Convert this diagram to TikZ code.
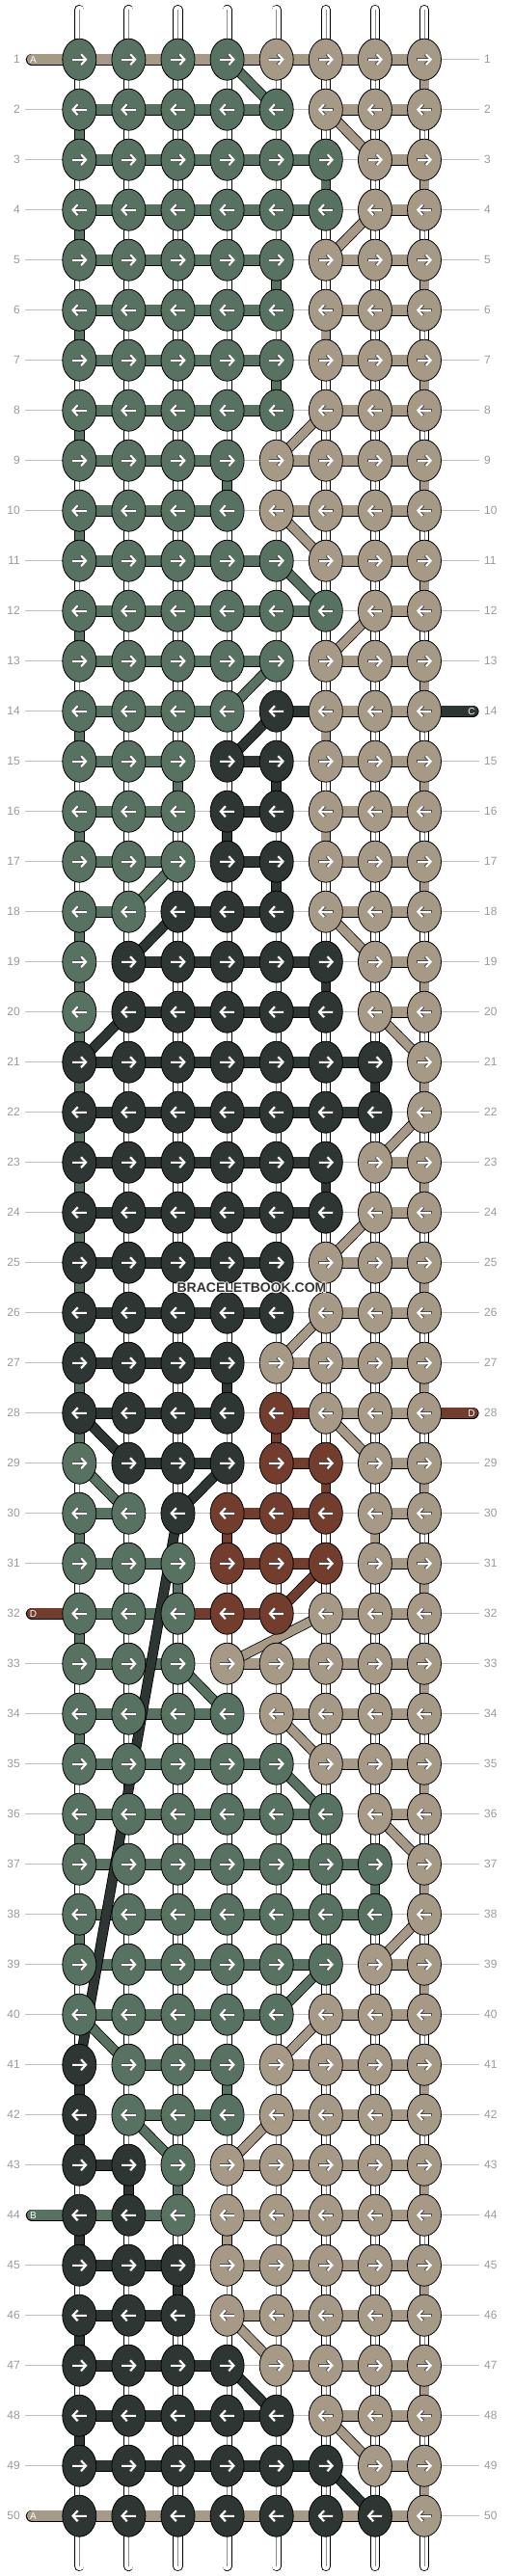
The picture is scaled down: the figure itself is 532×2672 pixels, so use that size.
\documentclass[tikz,border=0pt]{standalone}
\usepackage{fontspec}
\setmainfont{Liberation Sans}
\usetikzlibrary{shapes.geometric,arrows.meta}

\definecolor{G}{HTML}{587262}
\definecolor{T}{HTML}{A69A86}
\definecolor{D}{HTML}{2E3634}
\definecolor{R}{HTML}{733D2D}

\pgfdeclarelayer{strings}
\pgfsetlayers{strings,main}

\def\none{N}

\tikzset{
  knot/.style={ellipse, draw=black, line width=0.8pt, fill=#1, minimum width=35pt, minimum height=43pt, inner sep=0pt},
  strand/.style={draw=black, line width=0.8pt, double=#1, double distance=10.5pt},
  turn/.style={draw=black, line width=0.8pt, double=#1, double distance=9pt},
  slant/.style={draw=black, line width=0.8pt, double=#1, double distance=9pt},
  warp/.style={draw=black, line width=0.8pt, double=white, double distance=8.5pt},
  warpmid/.style={draw=black!45, line width=0.5pt},
  guide/.style={draw=black!25, line width=0.8pt},
  rownum/.style={text=black!40, font=\fontsize{12}{12}\selectfont, inner sep=0pt},
  tag/.style={text=white, font=\fontsize{10}{10}\selectfont, inner sep=0pt},
  arwout/.style={draw=black!70, line width=3.2pt, -{Straight Barb[length=5pt,width=11pt]}},
  arwin/.style={draw=white, line width=2.1pt, -{Straight Barb[length=5pt,width=11pt]}},
  wmhalo/.style={text=white, font=\bfseries\fontsize{14}{14}\selectfont, inner sep=0pt},
  wmtext/.style={text=black!80, font=\bfseries\fontsize{14}{14}\selectfont, inner sep=0pt}
}

\begin{document}
\begin{tikzpicture}[x=1pt,y=-1pt]
\useasboundingbox (0,0) rectangle (532,2672);

% row numbers and guide lines
\foreach \r in {1,...,50}{
  \node[rownum, anchor=east] (numL-\r) at (21,{61.7+52*(\r-1)}) {\r};
  \node[rownum, anchor=west] (numR-\r) at (502,{61.7+52*(\r-1)}) {\r};
  \begin{pgfonlayer}{strings}
    \draw[guide, shorten <=5pt, shorten >=5pt] (numL-\r.east) -- (numR-\r.west);
  \end{pgfonlayer}
}

% knots row by row, with the bars between neighbours
\foreach \r/\ks/\bs in {
  1/{G,G,G,G,T,T,T,T}/{T,T,T,T,T,T,T},
  2/{G,G,G,G,G,T,T,T}/{G,G,G,G,N,T,T},
  3/{G,G,G,G,G,G,T,T}/{G,G,G,G,G,N,T},
  4/{G,G,G,G,G,G,T,T}/{G,G,G,G,G,N,T},
  5/{G,G,G,G,G,T,T,T}/{G,G,G,G,N,T,T},
  6/{G,G,G,G,G,T,T,T}/{G,G,G,G,N,T,T},
  7/{G,G,G,G,G,T,T,T}/{G,G,G,G,N,T,T},
  8/{G,G,G,G,G,T,T,T}/{G,G,G,G,N,T,T},
  9/{G,G,G,G,T,T,T,T}/{G,G,G,N,T,T,T},
  10/{G,G,G,G,T,T,T,T}/{G,G,G,N,T,T,T},
  11/{G,G,G,G,G,T,T,T}/{G,G,G,G,N,T,T},
  12/{G,G,G,G,G,G,T,T}/{G,G,G,G,G,N,T},
  13/{G,G,G,G,G,T,T,T}/{G,G,G,G,N,T,T},
  14/{G,G,G,G,D,T,T,T}/{G,G,G,N,D,T,T},
  15/{G,G,G,D,D,T,T,T}/{G,G,N,D,N,T,T},
  16/{G,G,G,D,D,T,T,T}/{G,G,N,D,N,T,T},
  17/{G,G,G,D,D,T,T,T}/{G,G,N,D,N,T,T},
  18/{G,G,D,D,D,T,T,T}/{G,N,D,D,N,T,T},
  19/{G,D,D,D,D,D,T,T}/{N,D,D,D,D,N,T},
  20/{G,D,D,D,D,D,T,T}/{N,D,D,D,D,N,T},
  21/{D,D,D,D,D,D,D,T}/{D,D,D,D,D,D,N},
  22/{D,D,D,D,D,D,D,T}/{D,D,D,D,D,D,N},
  23/{D,D,D,D,D,D,T,T}/{D,D,D,D,D,N,T},
  24/{D,D,D,D,D,D,T,T}/{D,D,D,D,D,N,T},
  25/{D,D,D,D,D,T,T,T}/{D,D,D,D,N,T,T},
  26/{D,D,D,D,D,T,T,T}/{D,D,D,D,N,T,T},
  27/{D,D,D,D,T,T,T,T}/{D,D,D,N,T,T,T},
  28/{D,D,D,D,R,T,T,T}/{D,D,D,N,R,T,T},
  29/{G,D,D,D,R,R,T,T}/{N,D,D,N,R,N,T},
  30/{G,G,D,R,R,R,T,T}/{G,N,N,R,R,N,T},
  31/{G,G,G,R,R,R,T,T}/{G,G,N,R,R,N,T},
  32/{G,G,G,R,R,T,T,T}/{G,G,R,R,N,T,T},
  33/{G,G,G,T,T,T,T,T}/{G,G,N,T,T,T,T},
  34/{G,G,G,G,T,T,T,T}/{G,G,G,N,T,T,T},
  35/{G,G,G,G,G,T,T,T}/{G,G,G,G,N,T,T},
  36/{G,G,G,G,G,G,T,T}/{G,G,G,G,G,N,T},
  37/{G,G,G,G,G,G,G,T}/{G,G,G,G,G,G,N},
  38/{G,G,G,G,G,G,G,T}/{G,G,G,G,G,G,N},
  39/{G,G,G,G,G,G,T,T}/{G,G,G,G,G,N,T},
  40/{G,G,G,G,G,T,T,T}/{G,G,G,G,N,T,T},
  41/{D,G,G,G,T,T,T,T}/{N,G,G,N,T,T,T},
  42/{D,G,G,G,T,T,T,T}/{N,G,G,N,T,T,T},
  43/{D,D,G,T,T,T,T,T}/{D,N,N,T,T,T,T},
  44/{D,D,G,T,T,T,T,T}/{G,G,N,T,T,T,T},
  45/{D,D,D,T,T,T,T,T}/{D,D,N,T,T,T,T},
  46/{D,D,D,T,T,T,T,T}/{D,D,N,T,T,T,T},
  47/{D,D,D,D,T,T,T,T}/{D,D,D,N,T,T,T},
  48/{D,D,D,D,D,T,T,T}/{D,D,D,D,N,T,T},
  49/{D,D,D,D,D,D,T,T}/{D,D,D,D,D,N,T},
  50/{D,D,D,D,D,D,D,T}/{T,T,T,T,T,T,T}}{
  \foreach \col [count=\c] in \ks {
    \node[knot=\col] (k-\r-\c) at ({82.3+51.1*(\c-1)},{61.7+52*(\r-1)}) {};
    \ifodd\r
      \draw[arwout] ([xshift=-7.8pt]k-\r-\c.center) -- ([xshift=8.2pt]k-\r-\c.center);
      \draw[arwin] ([xshift=-7.3pt]k-\r-\c.center) -- ([xshift=8.2pt]k-\r-\c.center);
    \else
      \draw[arwout] ([xshift=7.8pt]k-\r-\c.center) -- ([xshift=-8.2pt]k-\r-\c.center);
      \draw[arwin] ([xshift=7.3pt]k-\r-\c.center) -- ([xshift=-8.2pt]k-\r-\c.center);
    \fi
  }
  \begin{pgfonlayer}{strings}
    \foreach \col [count=\c] in \bs {
      \ifx\col\none\else
        \pgfmathtruncatemacro\cn{\c+1}
        \draw[strand=\col] (k-\r-\c.center) -- (k-\r-\cn.center);
      \fi
    }
  \end{pgfonlayer}
}

\begin{pgfonlayer}{strings}
  % white warp strings between rows
  \foreach \r in {1,...,49}{
    \pgfmathtruncatemacro\rn{\r+1}
    \foreach \c in {1,...,8}{
      \draw[warp] (k-\r-\c.center) -- (k-\rn-\c.center);
      \draw[warpmid] (k-\r-\c.center) -- (k-\rn-\c.center);
    }
  }
  % coloured turns down a column
  \foreach \r/\c/\col in {1/8/T, 2/1/G, 3/6/G, 3/8/T, 4/1/G, 5/5/G, 5/8/T, 6/1/G, 6/6/T,
      7/5/G, 7/8/T, 8/1/G, 9/4/G, 9/8/T, 10/1/G, 11/8/T, 12/1/G, 13/8/T, 14/1/G, 14/6/T,
      15/3/G, 15/5/D, 15/8/T, 16/1/G, 16/4/D, 16/6/T, 17/5/D, 17/8/T, 18/1/G, 19/1/G,
      19/6/D, 19/8/T, 20/1/G, 21/1/G, 21/7/D, 21/8/T, 22/1/G, 23/1/G, 23/6/D, 23/8/T,
      24/1/G, 25/1/G, 25/8/T, 26/1/G, 27/1/G, 27/4/D, 27/8/T, 28/1/G, 28/5/R, 29/6/R,
      29/8/T, 30/1/G, 30/4/R, 30/7/T, 31/3/G, 31/8/T, 32/1/G, 33/8/T, 34/1/G, 35/8/T,
      36/1/G, 37/7/G, 37/8/T, 38/1/G, 39/8/T, 41/1/D, 41/4/G, 41/8/T, 42/1/D, 43/2/D,
      43/3/G, 43/8/T, 44/1/D, 44/4/T, 45/3/D, 45/8/T, 46/1/D, 47/8/T, 48/1/D, 49/8/T}{
    \pgfmathtruncatemacro\rn{\r+1}
    \draw[turn=\col] (k-\r-\c.center) -- (k-\rn-\c.center);
  }
  % strings changing column
  \foreach \ra/\ca/\rb/\cb/\col in {1/4/2/5/G, 2/6/3/7/T, 4/7/5/6/T, 8/6/9/5/T,
      10/5/11/6/T, 11/5/12/6/G, 12/7/13/6/T, 13/5/14/4/G, 14/5/15/4/D, 17/3/18/2/G,
      18/3/19/2/D, 18/6/19/7/T, 20/2/21/1/D, 20/7/21/8/T, 22/8/23/7/T, 24/7/25/6/T,
      26/6/27/5/T, 28/1/29/2/D, 28/6/29/7/T, 29/1/30/2/G, 29/4/30/3/D, 30/3/41/1/D,
      31/6/32/5/R, 32/6/33/4/T, 33/3/34/4/G, 34/5/35/6/T, 35/5/36/6/G, 36/7/37/8/T,
      38/8/39/7/T, 39/6/40/5/G, 40/1/41/2/G, 40/6/41/5/T, 42/2/43/3/G, 42/5/43/4/T,
      46/4/47/5/T, 47/4/48/5/D, 48/6/49/7/T, 49/6/50/7/D}
    \draw[slant=\col] (k-\ra-\ca.center) -- (k-\rb-\cb.center);
  % loose warp ends at top and bottom
  \foreach \c in {1,...,8}{
    \coordinate (top-\c) at ({82.3+51.1*(\c-1)},10);
    \coordinate (bot-\c) at ({82.3+51.1*(\c-1)},2662);
    \draw[warp, line cap=round] (top-\c) -- (k-1-\c.center);
    \draw[warpmid] (top-\c) -- (k-1-\c.center);
    \draw[warp, line cap=round] (k-50-\c.center) -- (bot-\c);
    \draw[warpmid] (k-50-\c.center) -- (bot-\c);
  }
  % loose weft ends
  \foreach \r/\x/\c/\col in {1/33/1/T, 50/33/1/T, 32/33/1/R, 44/33/1/G, 14/490.5/8/D, 28/490.5/8/R}{
    \coordinate (end-\r) at (\x,{61.7+52*(\r-1)});
    \draw[strand=\col, line cap=round] (end-\r) -- (k-\r-\c.center);
  }
\end{pgfonlayer}

% letters on the loose ends
\foreach \r/\x/\txt in {1/34.5/A, 50/34.5/A, 32/34.5/D, 44/34.5/B, 14/489/C, 28/489/D}
  \node[tag] (tag-\r) at (\x,{61.7+52*(\r-1)}) {\txt};

% watermark
\foreach \dx/\dy [count=\i] in {-1/0,1/0,0/-1,0/1,-0.7/-0.7,0.7/-0.7,-0.7/0.7,0.7/0.7}
  \node[wmhalo] (wmh-\i) at (261+\dx,1336+\dy) {BRACELETBOOK.COM};
\node[wmtext] (wm) at (261,1336) {BRACELETBOOK.COM};

\end{tikzpicture}
\end{document}
